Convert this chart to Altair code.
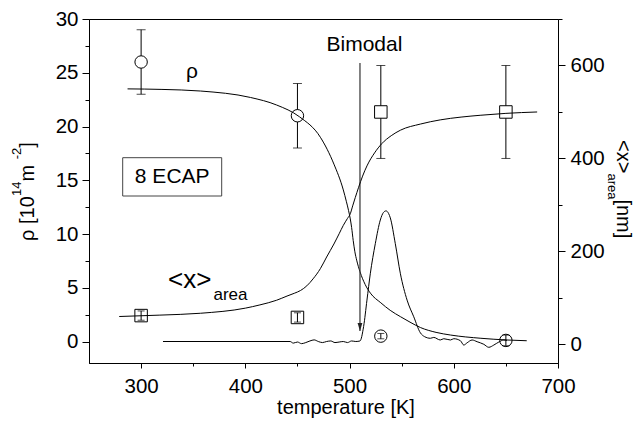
import altair as alt
import pandas as pd

# ---------------- data ----------------
# measured points (rho, left axis, 10^14 m^-2)
rho_T = [300, 450, 530, 650]
rho_val = [26.0, 21.0, 0.5, 0.1]
rho_err = [3.0, 3.0, 0.25, 0.5]

# measured points (<x>_area, right axis, nm)
xa_T = [300, 450, 530, 650]
xa_val = [62, 58, 500, 500]
xa_err = [10, 10, 100, 100]

# fitted curve for rho (left axis)
rho_fit_T = [287, 320, 357, 405, 430, 452, 472, 485, 494, 497, 499, 500.7, 502, 503.5, 505, 507, 510,
             515, 520, 530, 539, 549, 558, 568, 583, 597, 626, 651, 670]
rho_fit_v = [23.5, 23.45, 23.3, 22.7, 22.0, 20.9, 19.0, 16.5, 14.1, 13.0, 12.2, 11.4, 10.6, 9.4, 8.4, 7.5, 6.5,
             5.3, 4.5, 3.6, 2.9, 2.3, 1.8, 1.3, 0.85, 0.6, 0.3, 0.14, 0.07]

# fitted curve for <x>_area (right axis, nm)
xa_fit_T = [279, 318, 357, 400, 414, 430, 440, 447, 453, 459, 465, 472, 478, 485, 490, 494, 498, 500.7,
            503, 505.5, 508.7, 512.5, 516.7, 524, 531, 540, 549, 568, 587, 607, 626, 650, 680]
xa_fit_v = [60, 63, 67, 78, 85, 95, 104, 110, 116, 126, 141, 163, 188, 216, 238, 256, 271, 281,
            298, 316, 338, 362, 384, 412, 432, 449, 461, 474, 483, 489, 493, 497, 500]

# DSC trace (drawn against left axis)
dsc_T = [321, 443, 446, 450, 454, 458, 462, 466, 470, 474, 478, 482, 486, 490, 494, 498, 502, 506, 510,
         513.5, 516.7, 519.9, 524.7, 529.5, 532.5, 535, 537.5, 539.1, 543.9, 548.8, 555.2, 561.6, 568,
         572, 577.6, 580.8, 587, 590.4, 596.8, 600, 606.4, 609.6, 612.8, 617.6, 622.4, 628.8, 633.6,
         638.4, 643.2, 648, 651]
dsc_v = [0, 0, -0.15, -0.05, -0.2, -0.1, 0.05, 0.15, 0.0, -0.1, 0.0, 0.05, -0.1, -0.05, 0.0, -0.1, 0.05, 0.0, 0.05,
         1.4, 3.85, 6.3, 9.1, 11.3, 12.0, 12.15, 11.9, 11.5, 9.1, 6.3, 3.85, 2.3, 0.8,
         0.45, 0.3, 0.38, 0.14, 0.26, 0.14, 0.26, 0.07, -0.33, -0.12, 0.14, -0.02, -0.26, -0.54,
         -0.33, -0.05, 0.14, 0.1]

# Bimodal arrow (temperature, top, tip) in left-axis units
arrow_T = [510]
arrow_top = [25.9]
arrow_tip = [0.97]

# ticks
x_ticks = [300, 350, 400, 450, 500, 550, 600, 650, 700]
left_ticks = [0, 2.5, 5, 7.5, 10, 12.5, 15, 17.5, 20, 22.5, 25, 27.5, 30]
right_ticks = [0, 100, 200, 300, 400, 500, 600, 700]

# ---------------- tables ----------------
rho_df = pd.DataFrame({"T": rho_T, "v": rho_val, "err": rho_err})
rho_df["lo"] = rho_df["v"] - rho_df["err"]
rho_df["hi"] = rho_df["v"] + rho_df["err"]
xa_df = pd.DataFrame({"T": xa_T, "v": xa_val, "err": xa_err})
xa_df["lo"] = xa_df["v"] - xa_df["err"]
xa_df["hi"] = xa_df["v"] + xa_df["err"]
rho_fit = pd.DataFrame({"T": rho_fit_T, "v": rho_fit_v})
xa_fit = pd.DataFrame({"T": xa_fit_T, "v": xa_fit_v})
dsc = pd.DataFrame({"T": dsc_T, "v": dsc_v})
arrow = pd.DataFrame({"T": arrow_T, "top": arrow_top, "tip": arrow_tip})
one = pd.DataFrame({"a": [0]})

FONT = "Liberation Sans"
LAB = 20.5

xscale = alt.Scale(domain=[250, 700], nice=False, zero=False)
yL = alt.Scale(domain=[-2, 30], nice=False, zero=False)
yR = alt.Scale(domain=[-40, 700], nice=False, zero=False)

common = dict(title=None, grid=False, labelFlush=False, labelOverlap=False,
              labelFontSize=LAB, labelFont=FONT, labelColor="black",
              domainColor="black", tickColor="black", domainWidth=1, tickWidth=1)

xaxis = alt.Axis(values=x_ticks, orient="bottom",
                 labelExpr="datum.value % 100 === 0 ? format(datum.value, 'd') : ''",
                 tickSize={"condition": {"test": "datum.value % 100 !== 0", "value": 3}, "value": 5},
                 labelPadding=8, **common)
yLaxis = alt.Axis(values=left_ticks, orient="left",
                  labelExpr="datum.value % 5 === 0 ? format(datum.value, 'd') : ''",
                  tickSize={"condition": {"test": "datum.value % 5 !== 0", "value": 4}, "value": 7},
                  labelPadding=4, **common)
yRaxis = alt.Axis(values=right_ticks, orient="right",
                  labelExpr="datum.value % 200 === 0 ? format(datum.value, 'd') : ''",
                  tickSize={"condition": {"test": "datum.value % 200 !== 0", "value": 4}, "value": 7},
                  labelPadding=5, **common)

X = alt.X("T:Q", scale=xscale, axis=xaxis)

def YL(f):
    return alt.Y(f, type="quantitative", scale=yL, axis=yLaxis)

def YR(f):
    return alt.Y(f, type="quantitative", scale=yR, axis=yRaxis)

def caps(base, flt, yfun, size):
    return alt.layer(
        base.transform_filter(flt).mark_tick(orient="horizontal", size=size, thickness=1, color="black").encode(x=X, y=yfun("lo")),
        base.transform_filter(flt).mark_tick(orient="horizontal", size=size, thickness=1, color="black").encode(x=X, y=yfun("hi")),
    )

# ---------------- left-axis group ----------------
rho_base = alt.Chart(rho_df)
rho_bar_under = rho_base.transform_filter("datum.err >= 1").mark_rule(color="black", strokeWidth=1).encode(
    x=X, y=YL("lo"), y2="hi")
rho_cap_under = caps(rho_base, "datum.err >= 1", YL, 9)
rho_pts = rho_base.mark_point(shape="circle", filled=True, fill="white", stroke="black",
                              strokeWidth=1, size=154, opacity=1).encode(x=X, y=YL("v"))
rho_bar_over = rho_base.transform_filter("datum.err < 1").mark_rule(color="black", strokeWidth=1).encode(
    x=X, y=YL("lo"), y2="hi")
rho_cap_over = caps(rho_base, "datum.err < 1", YL, 7)
rho_line = alt.Chart(rho_fit).mark_line(color="black", strokeWidth=1, interpolate="monotone").encode(
    x=X, y=YL("v"))
dsc_line = alt.Chart(dsc).mark_line(color="black", strokeWidth=1, interpolate="monotone").encode(
    x=X, y=YL("v"))
arrow_rule = alt.Chart(arrow).mark_rule(color="#333333", strokeWidth=1.2).encode(
    x=X, y=YL("top"), y2="tip")
arrow_head = alt.Chart(arrow).mark_point(shape="M-0.3,-1L0.3,-1L0,0Z", filled=True, color="#222222",
                                          size=256, opacity=1).encode(x=X, y=YL("tip"))

def txt(s, x, y, size, angle=0, align="left", baseline="alphabetic", color="black"):
    kw = dict(text=s, fontSize=size, font=FONT, align=align, baseline=baseline, color=color)
    if angle:
        kw["angle"] = angle
    return alt.Chart(one).mark_text(**kw).encode(x=alt.value(x), y=alt.value(y))

box = alt.Chart(one).mark_rect(fill="white", stroke="#444444", strokeWidth=1).encode(
    x=alt.value(33.7), x2=alt.value(132.7), y=alt.value(138.7), y2=alt.value(177))

labels = [
    txt("Bimodal", 275.4, 32, 21, align="center"),
    box,
    txt("8 ECAP", 83.2, 164.3, 21, align="center"),
    txt("ρ", 103, 58.7, 21, align="center"),
    txt("<x>", 79, 269, 26),
    txt("area", 124.5, 281, 17),
    txt("temperature [K]", 257, 395, 20, align="center"),
    # left axis title, rotated
    txt("ρ [10", -55.5, 221.9, 20, angle=270),
    txt("14", -68.5, 177.0, 13, angle=270),
    txt(" m", -55.5, 162.5, 20, angle=270),
    txt("-2", -68.5, 140.3, 13, angle=270),
    txt("]", -55.5, 128.7, 20, angle=270),
    # right axis title, rotated
    txt("<x>", 527.5, 121, 20, angle=90),
    txt("area", 518.5, 154.4, 13, angle=90),
    txt(" [nm]", 527.5, 180.4, 20, angle=90),
]

left = alt.layer(rho_bar_under, rho_cap_under, rho_pts, rho_bar_over, rho_cap_over,
                 dsc_line, rho_line, arrow_rule, arrow_head, *labels)

# ---------------- right-axis group ----------------
xa_base = alt.Chart(xa_df)
xa_bar_under = xa_base.transform_filter("datum.err >= 50").mark_rule(color="black", strokeWidth=1).encode(
    x=X, y=YR("lo"), y2="hi")
xa_cap_under = caps(xa_base, "datum.err >= 50", YR, 9)
xa_pts = xa_base.mark_point(shape="square", filled=True, fill="white", stroke="black",
                            strokeWidth=1, size=156, opacity=1).encode(x=X, y=YR("v"))
xa_bar_over = xa_base.transform_filter("datum.err < 50").mark_rule(color="black", strokeWidth=1).encode(
    x=X, y=YR("lo"), y2="hi")
xa_cap_over = caps(xa_base, "datum.err < 50", YR, 7)
xa_line = alt.Chart(xa_fit).mark_line(color="black", strokeWidth=1, interpolate="monotone").encode(
    x=X, y=YR("v"))

right = alt.layer(xa_bar_under, xa_cap_under, xa_pts, xa_bar_over, xa_cap_over, xa_line)

chart = alt.layer(left, right).resolve_scale(y="independent").properties(
    width=469, height=344,
    autosize=alt.AutoSizeParams(type="none"),
    padding={"left": 81, "top": 11, "right": 78, "bottom": 55},
).configure(font=FONT, background="white").configure_view(stroke="black", strokeWidth=1)

chart.save("out.html", embed_options={"renderer": "svg", "actions": False})
